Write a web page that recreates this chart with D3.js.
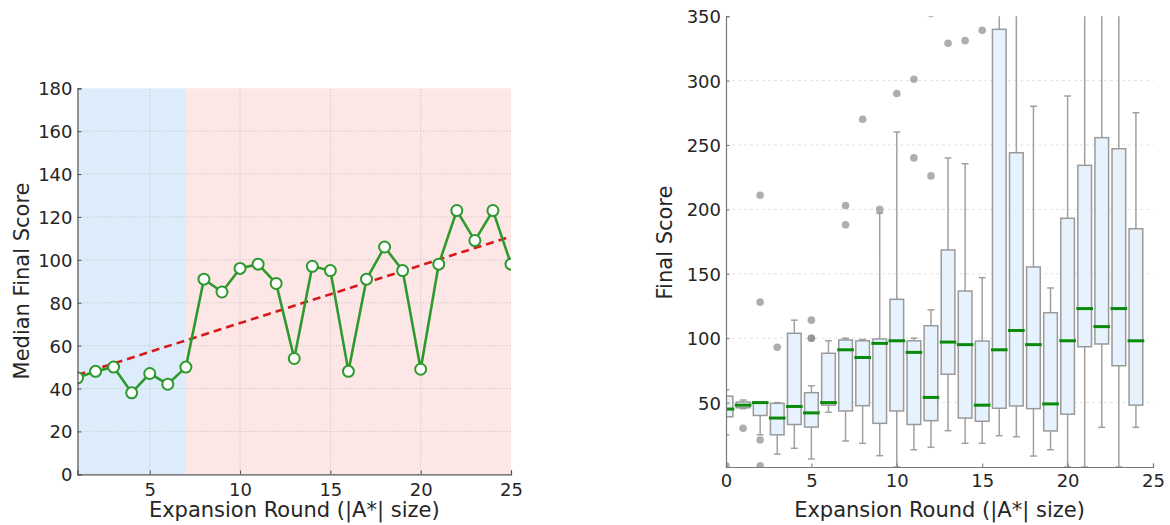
<!DOCTYPE html>
<html>
<head>
<meta charset="utf-8">
<script src="https://cdn.jsdelivr.net/npm/d3@7"></script>
<style>
  html, body { margin: 0; padding: 0; background: #fff; }
  svg { display: block; font-family: "DejaVu Sans", sans-serif; }
</style>
</head>
<body>
<svg id="chart" width="1170" height="525"></svg>
<script>
// ---- Data ----
const rounds = [1,2,3,4,5,6,7,8,9,10,11,12,13,14,15,16,17,18,19,20,21,22,23,24,25];
const medianScores = [45,48,50,38,47,42,50,91,85,96,98,89,54,97,95,48,91,106,95,49,98,123,109,123,98];
const phaseSplit = 7;
const leftXTicks = [5,10,15,20,25];
const leftYTicks = [0,20,40,60,80,100,120,140,160,180];

const boxPositions = [0,1,2,3,4,5,6,7,8,9,10,11,12,13,14,15,16,17,18,19,20,21,22,23,24];
const boxQ1 = [39,46,40,25,33,31,48,43.5,47.6,33.9,43.5,33,36,72,38,35.5,45.6,47.4,45.3,28,41,93.4,95.5,78.6,48];
const boxMedian = [45,48,50,38,47,42,50,91,85,96,98,89,54,97,95,48,91,106,95,49,98,123,109,123,98];
const boxQ3 = [55,50.5,50,49.4,103.8,57.7,88.3,98.6,98,99.4,130.2,98,109.7,168.5,136.6,97.8,339.8,244,155.3,119.8,193.1,234.2,255.7,247.1,185];
const whiskerLow = [25,45.3,25,10,14.5,6.2,42.5,20.2,18.4,8.8,0,13.4,15.3,28.2,18.4,18.4,24.3,23.5,8.5,13.4,0,0,30.8,0,30.8];
const whiskerHigh = [60,52,50,50,114,63,98,100,99,197,260,100,122,240,235.5,147,400,400,280,139,288,400,400,400,275];
const flierX = [0,1,2,2,2,2,3,5,5,5,7,7,8,9,10,11,11,12,12,13,14,15];
const flierY = [1,30,211,128,21,1,93,114,100,100,203,188,270,200,290,301,240,226,352,329,331,339];
const rightXTicks = [0,5,10,15,20,25];
const rightYTicks = [50,100,150,200,250,300,350];

const svg = d3.select("#chart");
const textColor = "#262626";

// ================= LEFT CHART =================
const L = { left: 77.5, right: 511, top: 88.3, bottom: 474.3 };
const xL = d3.scaleLinear().domain([1,25]).range([L.left, L.right]);
const yL = d3.scaleLinear().domain([0,180]).range([L.bottom, L.top]);
const gL = svg.append("g");

gL.append("rect").attr("x", xL(1)).attr("y", yL(180))
  .attr("width", xL(phaseSplit) - xL(1)).attr("height", yL(0) - yL(180))
  .attr("fill", "#dcecfb");
gL.append("rect").attr("x", xL(phaseSplit)).attr("y", yL(180))
  .attr("width", xL(25) - xL(phaseSplit)).attr("height", yL(0) - yL(180))
  .attr("fill", "#fde6e6");

// grid
gL.append("g").selectAll("line").data(leftXTicks.filter(d => d < 25)).join("line")
  .attr("x1", d => xL(d)).attr("x2", d => xL(d)).attr("y1", yL(0)).attr("y2", yL(180))
  .attr("stroke", "#c8c8c8").attr("stroke-width", 0.8).attr("stroke-dasharray", "1.5,1.5");
gL.append("g").selectAll("line").data(leftYTicks.filter(d => d > 0 && d < 180)).join("line")
  .attr("x1", xL(1)).attr("x2", xL(25)).attr("y1", d => yL(d)).attr("y2", d => yL(d))
  .attr("stroke", "#c8c8c8").attr("stroke-width", 0.8).attr("stroke-dasharray", "1.5,1.5");

// regression trend (least squares fit of the medians)
const mx = d3.mean(rounds), my = d3.mean(medianScores);
const slope = d3.sum(rounds.map((x,i) => (x-mx)*(medianScores[i]-my))) / d3.sum(rounds.map(x => (x-mx)*(x-mx)));
const icpt = my - slope*mx;
const trendX = [rounds[0], rounds[rounds.length-1]];
gL.append("line")
  .attr("x1", xL(trendX[0])).attr("y1", yL(icpt + slope*trendX[0]))
  .attr("x2", xL(trendX[1])).attr("y2", yL(icpt + slope*trendX[1]))
  .attr("stroke", "#d7191c").attr("stroke-width", 2.6).attr("stroke-dasharray", "8,5");

// data line
const clipL = svg.append("defs").append("clipPath").attr("id","clipL")
  .append("rect").attr("x", L.left).attr("y", L.top - 10).attr("width", L.right - L.left).attr("height", L.bottom - L.top + 10);
const dataG = gL.append("g").attr("clip-path", "url(#clipL)");
dataG.append("path").datum(rounds.map((x,i) => [x, medianScores[i]]))
  .attr("d", d3.line().x(d => xL(d[0])).y(d => yL(d[1])))
  .attr("fill", "none").attr("stroke", "#2e9a2e").attr("stroke-width", 2.6);
dataG.selectAll("circle").data(rounds.map((x,i) => [x, medianScores[i]])).join("circle")
  .attr("cx", d => xL(d[0])).attr("cy", d => yL(d[1])).attr("r", 5.5)
  .attr("fill", "#fff").attr("stroke", "#2e9a2e").attr("stroke-width", 2);

// axes
const axLx = gL.append("g").attr("transform", `translate(0,${L.bottom})`)
  .call(d3.axisBottom(xL).tickValues(leftXTicks).tickSize(-4).tickPadding(8));
const axLy = gL.append("g").attr("transform", `translate(${L.left},0)`)
  .call(d3.axisLeft(yL).tickValues(leftYTicks).tickSize(-4).tickPadding(5));
[axLx, axLy].forEach(a => {
  a.select(".domain").attr("stroke", "#555").attr("stroke-width", 1.2);
  a.selectAll(".tick line").attr("stroke", "#555");
  a.selectAll(".tick text").attr("font-size", 18).attr("fill", textColor).attr("font-family", "DejaVu Sans");
});
axLx.selectAll(".tick text").attr("dy", "0.75em");
axLy.selectAll(".tick text").attr("dy", "0.36em");

gL.append("text").attr("x", (L.left + L.right)/2).attr("y", 517)
  .attr("text-anchor", "middle").attr("font-size", 21).attr("fill", textColor)
  .text("Expansion Round (|A*| size)");
gL.append("text").attr("transform", "translate(28.5,281) rotate(-90)")
  .attr("text-anchor", "middle").attr("font-size", 21).attr("fill", textColor)
  .text("Median Final Score");

// ================= RIGHT CHART =================
const R = { left: 726, right: 1153, top: 16.2, bottom: 467 };
const xR = d3.scaleLinear().domain([0,25]).range([R.left, R.right]);
const yR = d3.scaleLinear().domain([0,350]).range([R.bottom, R.top]);
const gR = svg.append("g");

gR.append("g").selectAll("line").data(rightYTicks.filter(d => d < 350)).join("line")
  .attr("x1", R.left).attr("x2", R.right).attr("y1", d => yR(d)).attr("y2", d => yR(d))
  .attr("stroke", "#dcdcdc").attr("stroke-width", 0.8).attr("stroke-dasharray", "3,3");

svg.select("defs").append("clipPath").attr("id","clipR")
  .append("rect").attr("x", R.left).attr("y", R.top).attr("width", R.right - R.left + 10).attr("height", R.bottom - R.top);
const bg = gR.append("g").attr("clip-path", "url(#clipR)");
const boxW = xR(0.8) - xR(0);
const boxes = boxPositions.map((p,i) => ({p, q1: boxQ1[i], med: boxMedian[i], q3: boxQ3[i], lo: whiskerLow[i], hi: whiskerHigh[i]}));
const whiskColor = "#a0a0a0";

const bxs = bg.selectAll("g.box").data(boxes).join("g").attr("class","box");
// whiskers
bxs.append("line").attr("x1", d => xR(d.p)).attr("x2", d => xR(d.p))
  .attr("y1", d => yR(d.q3)).attr("y2", d => yR(d.hi)).attr("stroke", whiskColor).attr("stroke-width", 1.5);
bxs.append("line").attr("x1", d => xR(d.p)).attr("x2", d => xR(d.p))
  .attr("y1", d => yR(d.q1)).attr("y2", d => yR(d.lo)).attr("stroke", whiskColor).attr("stroke-width", 1.5);
// caps
bxs.append("line").attr("x1", d => xR(d.p) - boxW/4).attr("x2", d => xR(d.p) + boxW/4)
  .attr("y1", d => yR(d.hi)).attr("y2", d => yR(d.hi)).attr("stroke", whiskColor).attr("stroke-width", 1.5);
bxs.append("line").attr("x1", d => xR(d.p) - boxW/4).attr("x2", d => xR(d.p) + boxW/4)
  .attr("y1", d => yR(d.lo)).attr("y2", d => yR(d.lo)).attr("stroke", whiskColor).attr("stroke-width", 1.5);
// boxes
bxs.append("rect").attr("x", d => xR(d.p) - boxW/2).attr("width", boxW)
  .attr("y", d => yR(d.q3)).attr("height", d => yR(d.q1) - yR(d.q3))
  .attr("fill", "#e6f2fd").attr("stroke", "#9a9a9a").attr("stroke-width", 1.5);
// medians
bxs.append("line").attr("x1", d => xR(d.p) - boxW/2 - 1.5).attr("x2", d => xR(d.p) + boxW/2 + 1.5)
  .attr("y1", d => yR(d.med)).attr("y2", d => yR(d.med)).attr("stroke", "#0a8a0a").attr("stroke-width", 3);
// fliers
bg.selectAll("circle.flier").data(flierX.map((x,i) => [x, flierY[i]])).join("circle").attr("class","flier")
  .attr("cx", d => xR(d[0])).attr("cy", d => yR(d[1])).attr("r", 3.8)
  .attr("fill", "#8c8c8c").attr("fill-opacity", 0.7);

const axRx = gR.append("g").attr("transform", `translate(0,${R.bottom})`)
  .call(d3.axisBottom(xR).tickValues(rightXTicks).tickSize(-3.5).tickPadding(6));
const axRy = gR.append("g").attr("transform", `translate(${R.left},0)`)
  .call(d3.axisLeft(yR).tickValues(rightYTicks).tickSize(-3.5).tickPadding(5));
[axRx, axRy].forEach(a => {
  a.select(".domain").attr("stroke", "#777").attr("stroke-width", 1.2);
  a.selectAll(".tick line").attr("stroke", "#777");
  a.selectAll(".tick text").attr("font-size", 18).attr("fill", textColor).attr("font-family", "DejaVu Sans");
});
axRx.selectAll(".tick text").attr("dy", "0.75em");
axRy.selectAll(".tick text").attr("dy", "0.36em");

gR.append("text").attr("x", (R.left + R.right)/2).attr("y", 517)
  .attr("text-anchor", "middle").attr("font-size", 21).attr("fill", textColor)
  .text("Expansion Round (|A*| size)");
gR.append("text").attr("transform", "translate(671.5,242.5) rotate(-90)")
  .attr("text-anchor", "middle").attr("font-size", 21).attr("fill", textColor)
  .text("Final Score");
</script>
</body>
</html>
